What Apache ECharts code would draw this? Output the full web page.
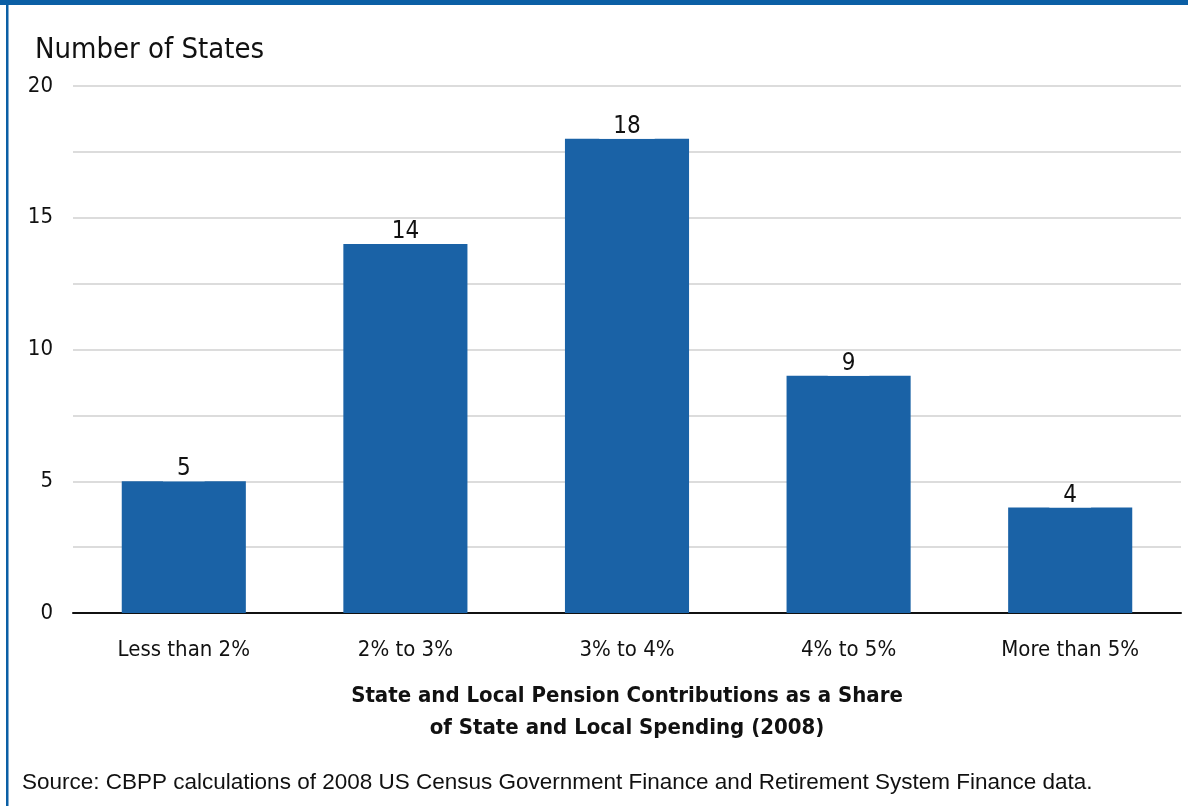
<!DOCTYPE html>
<html>
<head>
<meta charset="utf-8">
<script src="https://cdn.jsdelivr.net/npm/echarts@6/dist/echarts.min.js"></script>
<style>
html,body{margin:0;padding:0;background:#fff;}
#chart{width:1188px;height:806px;}
</style>
</head>
<body>
<div id="chart"></div>
<script>
const categories = ['Less than 2%', '2% to 3%', '3% to 4%', '4% to 5%', 'More than 5%'];
const values = [5, 14, 18, 9, 4];
const yTickLabels = [0, 5, 10, 15, 20];
const titleText = 'Number of States';
const xAxisTitle = 'State and Local Pension Contributions as a Share\nof State and Local Spending (2008)';
const sourceText = 'Source: CBPP calculations of 2008 US Census Government Finance and Retirement System Finance data.';

const condensed = '"Liberation Sans Narrow", "DejaVu Sans Condensed", "Roboto Condensed", sans-serif';
const chart = echarts.init(document.getElementById('chart'), null, {renderer: 'canvas'});
chart.setOption({
  animation: false,
  backgroundColor: '#fff',
  title: {
    text: titleText,
    left: 30,
    top: 31,
    textStyle: {fontFamily: condensed, fontSize: 29, fontWeight: 'normal', color: '#111'}
  },
  graphic: [
    {type: 'rect', shape: {x: 0, y: 0, width: 1188, height: 5}, style: {fill: '#0b5fa5'}, z: 100},
    {type: 'rect', shape: {x: 6, y: 0, width: 2.5, height: 806}, style: {fill: '#0b5fa5'}, z: 100},
    {type: 'text', left: 22, top: 771, style: {text: sourceText, font: '22.5px "Liberation Sans", Arial, sans-serif', fill: '#111'}}
  ],
  grid: {left: 73, right: 7, top: 86, bottom: 193, containLabel: false},
  xAxis: {
    type: 'category',
    data: categories,
    axisLine: {show: true, lineStyle: {color: '#111', width: 2}},
    axisTick: {show: false},
    axisLabel: {fontFamily: condensed, fontSize: 22, color: '#111', margin: 26},
    name: xAxisTitle,
    nameLocation: 'middle',
    nameGap: 67,
    nameTextStyle: {fontFamily: condensed, fontSize: 22, fontWeight: 'bold', color: '#111', lineHeight: 32}
  },
  yAxis: {
    type: 'value',
    min: 0,
    max: 20,
    interval: 2.5,
    axisLine: {show: false},
    axisTick: {show: false},
    splitLine: {show: true, lineStyle: {color: '#dcdcdc', width: 2}},
    axisLabel: {
      fontFamily: condensed, fontSize: 22, color: '#111', margin: 20,
      formatter: v => yTickLabels.includes(v) ? String(v) : ''
    }
  },
  series: [{
    type: 'bar',
    data: values,
    barWidth: '56%',
    itemStyle: {color: '#1a62a6'},
    label: {
      show: true,
      position: 'top',
      distance: 0,
      fontFamily: condensed,
      fontSize: 24,
      color: '#111',
      backgroundColor: '#fff',
      padding: [0, 14, 0, 14]
    }
  }]
});
</script>
</body>
</html>
